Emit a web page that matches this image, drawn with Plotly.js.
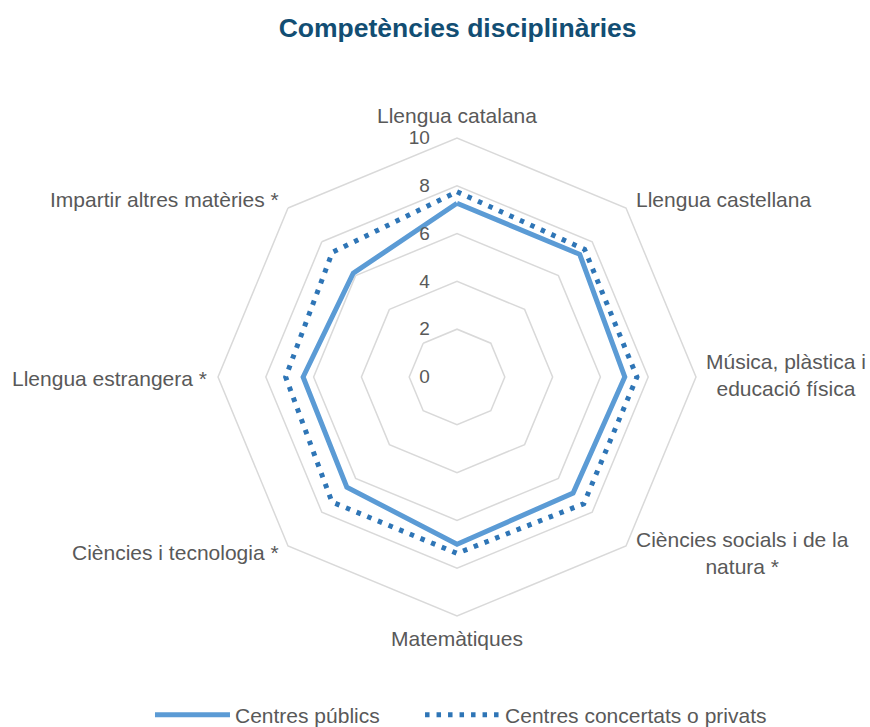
<!DOCTYPE html>
<html>
<head>
<meta charset="utf-8">
<script src="https://cdn.plot.ly/plotly-3.0.1.min.js"></script>
<style>html,body{margin:0;padding:0;background:#fff}#chart{width:870px;height:727px}</style>
</head>
<body>
<div id="chart"></div>
<script>
const categories = ["Llengua catalana","Llengua castellana","Música, plàstica i<br>educació física","Ciències socials i de la<br>natura *","Matemàtiques","Ciències i tecnologia *","Llengua estrangera *","Impartir altres matèries *"];
const publics = [7.27, 7.26, 7.02, 6.87, 7.0, 6.52, 6.44, 6.14];
const concertats = [7.75, 7.55, 7.53, 7.5, 7.38, 7.4, 7.17, 7.38];
const seriesNames = ["Centres públics","Centres concertats o privats"];
const radialTicks = [0,2,4,6,8,10];

// label placement (paper px): [x, y, xanchor]
const labelPlace = [[457,115,'center'],[634,200,'left'],[786,375,'center'],[742,553,'center'],
                    [457,638,'center'],[281,552,'right'],[209,378,'right'],[281,200,'right']];

const close = a => a.concat([a[0]]);
const cats = close(categories);

const traces = [
  {type:'scatterpolar', r: close(publics), theta: cats, name: seriesNames[0], mode:'lines',
   line:{color:'#5B9BD5', width:5}, legend:'legend'},
  {type:'scatterpolar', r: close(concertats), theta: cats, name: seriesNames[1], mode:'lines',
   line:{color:'#2E75B6', width:5, dash:'4.5px,7px'}, legend:'legend2'}
];

const W = 870, H = 727;
const annotations = categories.map((c,i)=>({
  text:c, xref:'paper', yref:'paper', x:labelPlace[i][0]/W, y:1-labelPlace[i][1]/H,
  xanchor:labelPlace[i][2], yanchor:'middle', align:'center', showarrow:false,
  font:{size:21,color:'#595959'}
}));

const legendBase = {orientation:'h', xanchor:'left', y:-0.012, yanchor:'bottom', itemwidth:75,
                    font:{size:21,color:'#595959'}};

const layout = {
  width:W, height:H,
  margin:{l:0,r:0,t:0,b:0,autoexpand:false},
  paper_bgcolor:'#fff',
  font:{family:'Liberation Sans, Arial, sans-serif', size:21, color:'#595959'},
  title:{text:'<b>Competències disciplinàries</b>', x:0.526, xanchor:'center', y:0.962, yanchor:'middle',
         font:{size:26.5, color:'#124E73', family:'Liberation Sans, Arial, sans-serif'}},
  polar:{
    domain:{x:[0.2506,0.8000], y:[0.1527,0.8102]},
    bgcolor:'rgba(0,0,0,0)',
    gridshape:'linear',
    radialaxis:{range:[0,10], tickvals:radialTicks, angle:90, tickangle:90, side:'counterclockwise',
      showline:false, gridcolor:'#D9D9D9', gridwidth:1.5, ticks:'outside', ticklen:20,
      tickcolor:'rgba(0,0,0,0)', tickfont:{size:19,color:'#595959'}},
    angularaxis:{rotation:90, direction:'clockwise', showgrid:false, linecolor:'#D9D9D9', linewidth:1.5,
      showticklabels:false, ticks:''}
  },
  annotations: annotations,
  showlegend:true,
  legend: Object.assign({}, legendBase, {x:0.1724}),
  legend2: Object.assign({}, legendBase, {x:0.4828})
};

Plotly.newPlot('chart', traces, layout, {displayModeBar:false, staticPlot:true});
</script>
</body>
</html>
